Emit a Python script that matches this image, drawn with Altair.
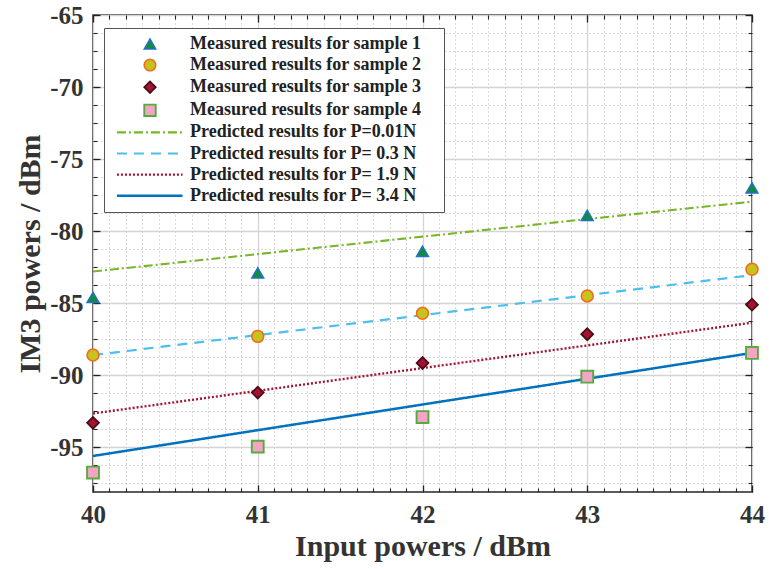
import altair as alt
import pandas as pd

SERIF = "Liberation Serif"
INK = "#333333"

# Input power (dBm)
input_power = [40, 41, 42, 43, 44]

# Measured IM3 powers (dBm)
sample_1 = [-84.6, -82.9, -81.4, -78.9, -77.0]
sample_2 = [-88.6, -87.3, -85.7, -84.5, -82.65]
sample_3 = [-93.3, -91.2, -89.15, -87.15, -85.1]
sample_4 = [-96.75, -94.95, -92.9, -90.1, -88.45]

# Predicted IM3 powers (dBm)
pred_p001 = [-82.8, -81.59, -80.38, -79.16, -77.95]
pred_p03 = [-88.6, -87.21, -85.83, -84.44, -83.05]
pred_p19 = [-92.65, -91.08, -89.5, -87.93, -86.35]
pred_p34 = [-95.6, -93.81, -92.03, -90.24, -88.45]

measured_names = [
    "Measured results for sample 1",
    "Measured results for sample 2",
    "Measured results for sample 3",
    "Measured results for sample 4",
]
predicted_names = [
    "Predicted results for P=0.01N",
    "Predicted results for P= 0.3 N",
    "Predicted results for P= 1.9 N",
    "Predicted results for P= 3.4 N",
]
series_names = measured_names + predicted_names

# tick positions
x_major = [40, 41, 42, 43, 44]
x_minor = [round(40 + 0.1 * k, 1) for k in range(41)]
y_major = [-95, -90, -85, -80, -75, -70, -65]
y_minor = [-97.5 + 1.25 * k for k in range(27)]
y_domain = [-98.1, -65]

# styles per series (markers first, then model curves)
line_path = "M-5.8,0H5.7"
shape_range = ["triangle-up", "circle", "diamond", "square",
               line_path, line_path, line_path, line_path]
fill_range = ["#148a3e", "#c6c41c", "#a2142f", "#f7a3c8",
              "transparent", "transparent", "transparent", "transparent"]
stroke_range = ["#1f72c4", "#ee6f22", "#4a0c18", "#55ab3d",
                "#77b52a", "#4dbeee", "#a2142f", "#0072bd"]
dash_range = [[1, 0], [1, 0], [1, 0], [1, 0],
              [9, 3, 2, 3], [10, 7], [2, 2], [1, 0]]
width_range = [1.5, 2.5, 1.5, 1.5, 2.5, 2.5, 2.5, 2.5]

measured = [sample_1, sample_2, sample_3, sample_4]
predicted = [pred_p001, pred_p03, pred_p19, pred_p34]

df_pts = pd.DataFrame(
    [{"x": xv, "y": yv, "series": name}
     for name, vals in zip(measured_names, measured)
     for xv, yv in zip(input_power, vals)]
)
df_lines = pd.DataFrame(
    [{"x": xv, "y": yv, "series": name}
     for name, vals in zip(predicted_names, predicted)
     for xv, yv in zip(input_power, vals)]
)

x_scale = alt.Scale(domain=[40, 44], nice=False, zero=False)
y_scale = alt.Scale(domain=y_domain, nice=False, zero=False)

# legend box: a blank right-hand title keeps some room after the labels
legend = alt.Legend(
    title=".",
    titleOrient="right",
    titleColor="white",
    titleFontSize=18,
    titlePadding=10,
    orient="none",
    legendX=11,
    legendY=13,
    padding=7,
    rowPadding=3.1,
    symbolSize=130,
    symbolOffset=30,
    labelOffset=31,
    labelFont=SERIF,
    labelFontWeight="bold",
    labelFontSize=18,
    labelColor="#222222",
    labelLimit=500,
    strokeColor="#555555",
    fillColor="white",
)

fill_enc = alt.Fill("series:N", scale=alt.Scale(domain=series_names, range=fill_range), legend=legend)
stroke_enc = alt.Stroke("series:N", scale=alt.Scale(domain=series_names, range=stroke_range), legend=legend)
shape_enc = alt.Shape("series:N", scale=alt.Scale(domain=series_names, range=shape_range), legend=legend)
dash_enc = alt.StrokeDash("series:N", scale=alt.Scale(domain=series_names, range=dash_range), legend=legend)
width_enc = alt.StrokeWidth("series:N", scale=alt.Scale(domain=series_names, range=width_range), legend=legend)


def hidden_axis(**kw):
    return alt.Axis(labels=False, title=None, domain=False, **kw)


def helper_layer(x_axis, y_axis):
    return alt.Chart(df_pts).mark_point(opacity=0, size=1).encode(
        x=alt.X("x:Q", scale=x_scale, axis=x_axis),
        y=alt.Y("y:Q", scale=y_scale, axis=y_axis),
    )


grid_minor = helper_layer(
    hidden_axis(orient="bottom", values=x_minor, ticks=False, grid=True,
                gridColor="#b4b4b4", gridDash=[1, 3], gridWidth=1),
    hidden_axis(orient="left", values=y_minor, ticks=False, grid=True,
                gridColor="#b4b4b4", gridDash=[1, 3], gridWidth=1),
)
grid_major = helper_layer(
    hidden_axis(orient="bottom", values=x_major, ticks=False, grid=True,
                gridColor="#d4d4d4", gridWidth=1.3),
    hidden_axis(orient="left", values=y_major, ticks=False, grid=True,
                gridColor="#d4d4d4", gridWidth=1.3),
)

lines = alt.Chart(df_lines).mark_line(clip=True).encode(
    x=alt.X("x:Q", scale=x_scale, axis=alt.Axis(
        orient="bottom", values=x_major, format="d", offset=-7, tickSize=7,
        tickWidth=1.3, tickColor="#222222", domain=False, grid=False,
        labelFlush=False, labelFont=SERIF, labelFontWeight="bold",
        labelFontSize=25, labelColor=INK, labelPadding=10,
        title="Input powers / dBm", titleFont=SERIF, titleFontWeight="bold",
        titleFontSize=30, titleColor=INK, titlePadding=4)),
    y=alt.Y("y:Q", scale=y_scale, axis=alt.Axis(
        orient="left", values=y_major, offset=-7, tickSize=7,
        tickWidth=1.3, tickColor="#222222", domain=False, grid=False,
        labelExpr="datum.value + ''", labelFont=SERIF, labelFontWeight="bold",
        labelFontSize=25, labelColor=INK, labelPadding=10,
        title="IM3 powers / dBm", titleFont=SERIF, titleFontWeight="bold",
        titleFontSize=30, titleColor=INK, titlePadding=4)),
    stroke=stroke_enc,
    strokeDash=dash_enc,
    strokeWidth=width_enc,
    order=alt.Order("x:Q"),
)

points = alt.Chart(df_pts).mark_point(filled=True, size=140, opacity=1).encode(
    x=alt.X("x:Q", scale=x_scale, axis=None),
    y=alt.Y("y:Q", scale=y_scale, axis=None),
    fill=fill_enc,
    stroke=stroke_enc,
    shape=shape_enc,
    strokeWidth=width_enc,
)

minor_ticks_bl = helper_layer(
    hidden_axis(orient="bottom", values=x_minor, offset=-4, tickSize=4,
                tickColor="#222222", tickWidth=1.1, grid=False),
    hidden_axis(orient="left", values=y_minor, offset=-4, tickSize=4,
                tickColor="#222222", tickWidth=1.1, grid=False),
)
major_ticks_tr = helper_layer(
    hidden_axis(orient="top", values=x_major, offset=-7, tickSize=7,
                tickColor="#222222", tickWidth=1.3, grid=False),
    hidden_axis(orient="right", values=y_major, offset=-7, tickSize=7,
                tickColor="#222222", tickWidth=1.3, grid=False),
)
minor_ticks_tr = helper_layer(
    hidden_axis(orient="top", values=x_minor, offset=-4, tickSize=4,
                tickColor="#222222", tickWidth=1.1, grid=False),
    hidden_axis(orient="right", values=y_minor, offset=-4, tickSize=4,
                tickColor="#222222", tickWidth=1.1, grid=False),
)

chart = (
    alt.layer(grid_minor, grid_major, lines, points,
              minor_ticks_bl, major_ticks_tr, minor_ticks_tr)
    .resolve_axis(x="independent", y="independent")
    .properties(
        width=659,
        height=477,
        autosize=alt.AutoSizeParams(type="none"),
        padding={"left": 93, "top": 15, "right": 17, "bottom": 77},
        background="white",
    )
    .configure_view(stroke="#262626", strokeWidth=1.5)
)

chart.save("out.html", embed_options={"renderer": "svg", "actions": False})
